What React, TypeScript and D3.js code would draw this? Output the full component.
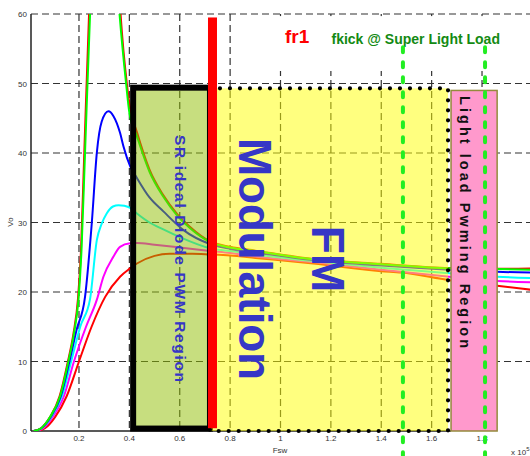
import React from 'react';
import * as d3 from 'd3';

const W = 530;
const H = 456;

type P = [number, number];

// axis ticks
const xTicks = [0.2, 0.4, 0.6, 0.8, 1.0, 1.2, 1.4, 1.6, 1.8];
const xTickLabels = ['0.2', '0.4', '0.6', '0.8', '1', '1.2', '1.4', '1.6', '1.8'];
const yTicks = [0, 10, 20, 30, 40, 50, 60];
const yTickLabels = ['0', '10', '20', '30', '40', '50', '60'];

// series (Fsw in 1e5 units, Vo)
const redTop: P[] = [
  [0.02, 0], [0.05, 0.4], [0.085, 2], [0.123, 5], [0.156, 10], [0.178, 14], [0.196, 19], [0.208, 26],
  [0.221, 40], [0.24, 60], [0.27, 82], [0.3, 90], [0.33, 82], [0.35, 69], [0.365, 60], [0.39, 50],
  [0.403, 46.5], [0.43, 43.0], [0.48, 37.6], [0.535, 33.9], [0.59, 31.2], [0.64, 29.4], [0.72, 27.3],
  [0.8, 26.5], [0.9, 25.95], [1.13, 24.75], [1.4, 24.05], [1.67, 23.45], [1.86, 23.35], [2.0, 23.4],
];
const greenTop: P[] = [
  [0.02, 0], [0.05, 0.4], [0.085, 2], [0.125, 5], [0.158, 10], [0.18, 14], [0.198, 18.9], [0.21, 26],
  [0.224, 40], [0.244, 60], [0.27, 78], [0.3, 85], [0.33, 77], [0.345, 68], [0.361, 60], [0.387, 50],
  [0.4, 45.8], [0.43, 42.4], [0.48, 37.3], [0.535, 33.7], [0.59, 31.0], [0.64, 29.2], [0.72, 27.2],
  [0.8, 26.4], [0.9, 25.9], [1.13, 24.7], [1.4, 24.0], [1.67, 23.4], [1.86, 23.3], [2.0, 23.2],
];
const blueCurve: P[] = [
  [0.02, 0], [0.05, 0.4], [0.087, 2], [0.128, 5], [0.162, 10], [0.19, 14.5], [0.224, 19.3], [0.251, 30],
  [0.271, 40.1], [0.29, 44.5], [0.317, 46], [0.337, 45.3], [0.363, 42.9], [0.377, 40.9], [0.403, 38.1],
  [0.43, 36.4], [0.48, 33.6], [0.535, 31.6], [0.615, 28.9], [0.72, 26.9], [0.8, 26.2], [0.9, 25.7],
  [1.13, 24.6], [1.4, 23.8], [1.67, 23.2], [1.86, 22.9], [2.0, 22.8],
];
const cyanCurve: P[] = [
  [0.02, 0], [0.05, 0.35], [0.09, 2], [0.132, 5], [0.169, 10], [0.205, 15], [0.244, 19], [0.271, 27.5],
  [0.29, 29.8], [0.31, 31.3], [0.335, 32.3], [0.357, 32.5], [0.38, 32.4], [0.403, 32.1], [0.43, 31.3],
  [0.48, 30.0], [0.535, 29.0], [0.6, 27.9], [0.72, 26.3], [0.8, 25.9], [0.9, 25.4], [1.13, 24.45],
  [1.4, 23.5], [1.67, 22.7], [1.86, 22.2], [2.0, 22.0],
];
const magentaCurve: P[] = [
  [0.025, 0], [0.055, 0.35], [0.095, 2], [0.14, 5], [0.18, 10], [0.228, 15], [0.271, 18.9], [0.297, 22.2],
  [0.337, 25.1], [0.363, 26.5], [0.403, 27.0], [0.43, 27.05], [0.5, 26.8], [0.6, 26.4], [0.72, 25.9],
  [0.8, 25.6], [0.9, 25.1], [1.13, 24.3], [1.4, 23.2], [1.67, 22.2], [1.86, 21.6], [2.0, 21.4],
];
const redBottom: P[] = [
  [0.035, 0], [0.065, 0.4], [0.105, 2], [0.151, 5], [0.2, 10], [0.25, 15], [0.304, 19.3], [0.363, 22.2],
  [0.403, 23.4], [0.43, 24.1], [0.5, 25.2], [0.56, 25.5], [0.65, 25.5], [0.72, 25.4], [0.8, 25.25],
  [0.9, 24.9], [1.13, 24.1], [1.4, 23.0], [1.48, 22.8], [1.67, 21.7], [1.86, 20.9], [2.0, 20.3],
];

const seriesList = [
  { key: 'redBottom', color: '#ff0000', pts: redBottom },
  { key: 'magenta', color: '#ff00ff', pts: magentaCurve },
  { key: 'cyan', color: '#00ffff', pts: cyanCurve },
  { key: 'blue', color: '#0000ff', pts: blueCurve },
  { key: 'redTop', color: '#ff0000', pts: redTop },
  { key: 'green', color: '#00ff00', pts: greenTop },
];

// annotation regions (data units)
const srRegion = { x0: 0.415, x1: 0.72, y0: 0.35, y1: 49.4 };
const fmRegion = { x0: 0.72, x1: 1.665, y0: 0, y1: 49.3 };
const lightRegion = { x0: 1.677, x1: 1.86, y0: 0, y1: 49.0 };
const fr1 = { x: 0.73, y0: 0.4, y1: 59.5 };
const fkickX = [1.486, 1.812];
const fkickY = [55.2, -3.6];
const blankBox = { x0: 0.81, x1: 2.0, y0: 51.8, y1: 59.7 };

const FONT = '"Liberation Sans", Arial, Helvetica, sans-serif';

export default function App() {
  const x = d3.scaleLinear().domain([0, 2]).range([28.6, 532.4]);
  const y = d3.scaleLinear().domain([0, 60]).range([431, 14]);
  const line = d3
    .line<P>()
    .x((d) => x(d[0]))
    .y((d) => y(d[1]))
    .curve(d3.curveMonotoneX);

  const plotLeft = 31;
  const plotTop = y(60);
  const plotBottom = y(0);

  const gridColor = '#333';
  const blue = '#3636c6';

  return (
    <svg width={W} height={H} style={{ position: 'absolute', left: 0, top: 0, background: '#fff' }}>
      <defs>
        <clipPath id="plotclip">
          <rect x={plotLeft} y={plotTop} width={W - plotLeft} height={plotBottom - plotTop} />
        </clipPath>
      </defs>
      <rect x={0} y={0} width={W} height={H} fill="#fff" />

      {/* grid */}
      {yTicks.filter((t) => t > 0).map((t) => (
        <line key={'gy' + t} x1={plotLeft} x2={W} y1={y(t)} y2={y(t)} stroke={gridColor} strokeWidth={1.2} strokeDasharray="7 4" />
      ))}
      {xTicks.map((t) => (
        <line key={'gx' + t} x1={x(t)} x2={x(t)} y1={plotTop} y2={plotBottom} stroke={gridColor} strokeWidth={1.2} strokeDasharray="7 4" />
      ))}

      {/* axes */}
      <line x1={plotLeft} x2={plotLeft} y1={plotTop} y2={plotBottom} stroke="#222" strokeWidth={1.5} />
      <line x1={plotLeft} x2={x(lightRegion.x0)} y1={plotBottom} y2={plotBottom} stroke="#222" strokeWidth={1.5} />

      {/* curves */}
      <g clipPath="url(#plotclip)">
        {seriesList.map((s) => (
          <path key={s.key} d={line(s.pts) || ''} fill="none" stroke={s.color} strokeWidth={2} />
        ))}
      </g>

      {/* blank annotation box at top */}
      <rect x={x(blankBox.x0)} y={y(blankBox.y1)} width={x(blankBox.x1) - x(blankBox.x0)} height={y(blankBox.y0) - y(blankBox.y1)} fill="#fff" />

      {/* SR region */}
      <rect
        x={x(srRegion.x0)}
        y={y(srRegion.y1)}
        width={x(srRegion.x1) - x(srRegion.x0)}
        height={y(srRegion.y0) - y(srRegion.y1)}
        fill="#90bd00"
        fillOpacity={0.5}
        stroke="#000"
        strokeWidth={6}
      />

      {/* FM region */}
      <rect
        x={x(fmRegion.x0)}
        y={y(fmRegion.y1)}
        width={x(fmRegion.x1) - x(fmRegion.x0)}
        height={y(fmRegion.y0) - y(fmRegion.y1)}
        fill="#ffff00"
        fillOpacity={0.5}
        stroke="#000"
        strokeWidth={4.2}
        strokeDasharray="0 10"
        strokeLinecap="round"
      />

      {/* light load region */}
      <rect
        x={x(lightRegion.x0)}
        y={y(lightRegion.y1)}
        width={x(lightRegion.x1) - x(lightRegion.x0)}
        height={y(lightRegion.y0) - y(lightRegion.y1)}
        fill="#ff99cc"
        stroke="#948a3c"
        strokeWidth={1.5}
      />

      {/* fr1 bar */}
      <rect x={x(fr1.x) - 4.5} y={y(fr1.y1)} width={9} height={y(fr1.y0) - y(fr1.y1)} fill="#ff0000" />

      {/* region labels */}
      <text
        transform={`translate(175,258.5) rotate(90)`}
        textAnchor="middle"
        fontFamily={FONT}
        fontSize={15.5}
        fontWeight="bold"
        fill={blue}
        textLength={247}
        lengthAdjust="spacing"
      >
        SR ideal Diode PWM Region
      </text>
      <text
        transform={`translate(238.5,259) rotate(90)`}
        textAnchor="middle"
        fontFamily={FONT}
        fontSize={46}
        fontWeight="bold"
        fill={blue}
        textLength={242}
        lengthAdjust="spacing"
      >
        Modulation
      </text>
      <text
        transform={`translate(312,259) rotate(90)`}
        textAnchor="middle"
        fontFamily={FONT}
        fontSize={46}
        fontWeight="bold"
        fill={blue}
      >
        FM
      </text>
      <text
        transform={`translate(460,222) rotate(90)`}
        textAnchor="middle"
        fontFamily={FONT}
        fontSize={14.5}
        fontWeight="bold"
        fill="#111"
        textLength={252}
        lengthAdjust="spacing"
      >
        Light load Pwming Region
      </text>

      <text x={285} y={43} fontFamily={FONT} fontSize={19} fontWeight="bold" fill="#ff0000">fr1</text>
      <text x={331.5} y={44} fontFamily={FONT} fontSize={14} fontWeight="bold" fill="#138a13">
        fkick @ Super Light Load
      </text>

      {/* tick labels */}
      {yTicks.map((t, i) => (
        <text key={'yl' + t} x={27} y={y(t) + 3} textAnchor="end" fontFamily={FONT} fontSize={8} fill="#333">
          {yTickLabels[i]}
        </text>
      ))}
      {xTicks.map((t, i) => (
        <text key={'xl' + t} x={x(t)} y={441} textAnchor="middle" fontFamily={FONT} fontSize={8} fill="#333">
          {xTickLabels[i]}
        </text>
      ))}
      <text x={280} y={453} textAnchor="middle" fontFamily={FONT} fontSize={8} fill="#333">Fsw</text>
      <text transform="translate(13,222) rotate(-90)" textAnchor="middle" fontFamily={FONT} fontSize={8} fill="#333">Vo</text>
      <text x={511} y={455} fontFamily={FONT} fontSize={8} fill="#333">
        x 10<tspan dy={-4} fontSize={6}>5</tspan>
      </text>

      {/* fkick lines */}
      {fkickX.map((fx) => (
        <line
          key={'fk' + fx}
          x1={x(fx)}
          x2={x(fx)}
          y1={y(fkickY[0])}
          y2={y(fkickY[1])}
          stroke="#22ee22"
          strokeWidth={4}
          strokeDasharray="5 10"
          strokeLinecap="round"
        />
      ))}
    </svg>
  );
}
